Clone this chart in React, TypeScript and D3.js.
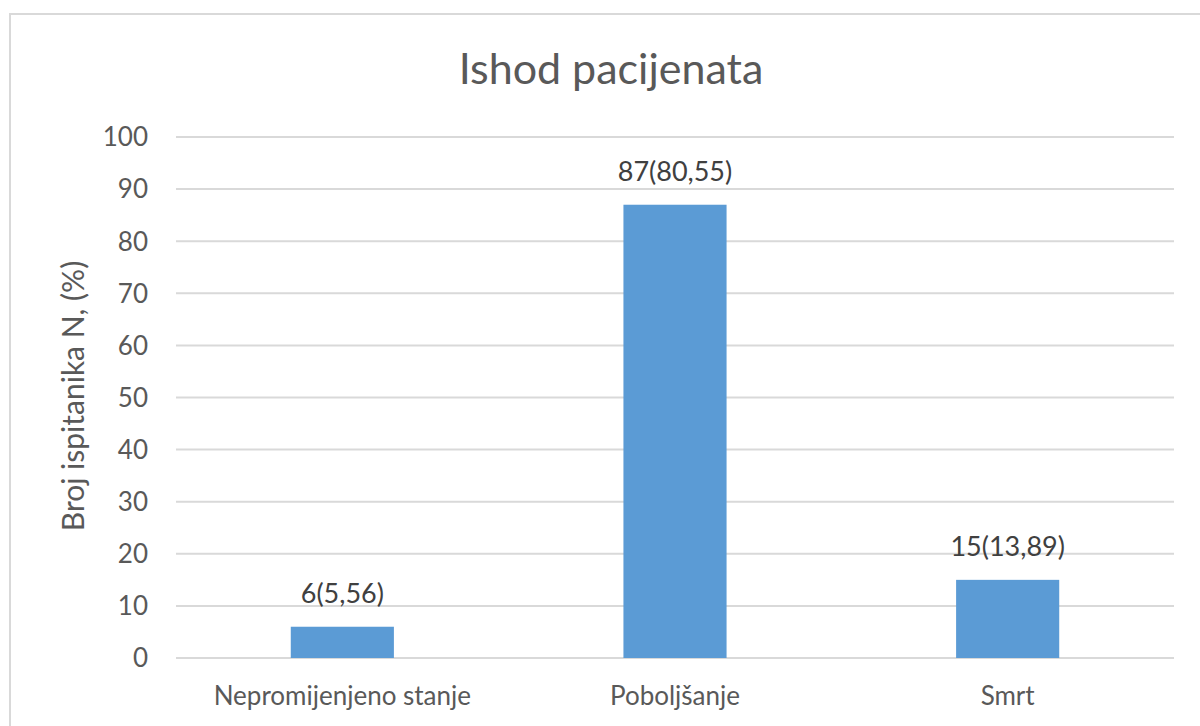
import React from 'react';
import * as d3 from 'd3';

const categories = ['Nepromijenjeno stanje', 'Poboljšanje', 'Smrt'];
const counts = [6, 87, 15];
const labels = ['6(5,56)', '87(80,55)', '15(13,89)'];
const yTicks = [0, 10, 20, 30, 40, 50, 60, 70, 80, 90, 100];

const W = 1200;
const H = 726;
const left = 176;
const right = 1174;
const top = 137;
const bottom = 658;
const font = 'Lato, "Open Sans", sans-serif';
const textColor = '#595959';

export default function App() {
  const x = d3.scaleBand<string>()
    .domain(categories)
    .range([left, right])
    .paddingInner(0.69)
    .paddingOuter(0.345);
  const y = d3.scaleLinear().domain([0, 100]).range([bottom, top]);

  return (
    <svg width={W} height={H} style={{ position: 'absolute', left: 0, top: 0, background: '#fff' }}>
      <rect x={10} y={14} width={1220} height={760} fill="#fff" stroke="#d9d9d9" strokeWidth={2} />
      <text x={611} y={84} textAnchor="middle" fontFamily={font} fontSize={43} fill={textColor}>
        Ishod pacijenata
      </text>

      {yTicks.map(t => (
        <g key={t}>
          <line x1={left} x2={right} y1={y(t)} y2={y(t)} stroke="#d9d9d9" strokeWidth={2} />
          <text x={148} y={y(t)} dy="0.36em" textAnchor="end" fontFamily={font} fontSize={26} fill={textColor}>
            {t}
          </text>
        </g>
      ))}

      <text
        transform={`translate(84,396) rotate(-90)`}
        textAnchor="middle"
        fontFamily={font}
        fontSize={30}
        fill={textColor}
      >
        Broj ispitanika N, (%)
      </text>

      {categories.map((c, i) => {
        const bx = x(c)!;
        const cx = bx + x.bandwidth() / 2;
        return (
          <g key={c}>
            <rect x={bx} y={y(counts[i])} width={x.bandwidth()} height={bottom - y(counts[i])} fill="#5b9bd5" />
            <text x={cx} y={y(counts[i]) - 24} textAnchor="middle" fontFamily={font} fontSize={27} fill="#404040">
              {labels[i]}
            </text>
            <text x={cx} y={705} textAnchor="middle" fontFamily={font} fontSize={26} fill={textColor}>
              {c}
            </text>
          </g>
        );
      })}
    </svg>
  );
}
